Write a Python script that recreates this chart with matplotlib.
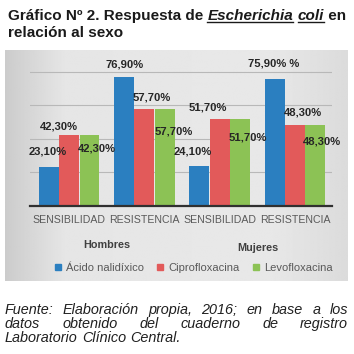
import numpy as np
import matplotlib.pyplot as plt
from matplotlib.lines import Line2D

# Data
categories = ["SENSIBILIDAD", "RESISTENCIA", "SENSIBILIDAD", "RESISTENCIA"]
groups = ["Hombres", "Mujeres"]
series_names = ["Ácido nalidíxico", "Ciprofloxacina", "Levofloxacina"]
acido = [23.1, 76.9, 24.1, 75.9]
cipro = [42.3, 57.7, 51.7, 48.3]
levo = [42.3, 57.7, 51.7, 48.3]

colors = ["#2b7fc0", "#e25a5a", "#8cc255"]
W, H = 354, 354
FONT = "Liberation Sans"

fig = plt.figure(figsize=(W / 100, H / 100), dpi=100)
fig.patch.set_facecolor("white")


def fx(px):
    return px / W


def fy(py):
    return 1 - py / H


# gray panel behind the chart
bg = fig.add_axes([fx(5), fy(281), fx(343), (281 - 50) / H], zorder=0)
grad = np.concatenate([np.linspace(0.80, 0.90, 60), np.linspace(0.90, 0.91, 200),
                       np.linspace(0.91, 0.86, 80)])
bg.imshow(np.tile(grad, (10, 1)), cmap="gray", vmin=0, vmax=1, aspect="auto",
          extent=[0, 1, 0, 1])
bg.axis("off")

ax = fig.add_axes([fx(30), fy(206), fx(302), (206 - 60) / H], zorder=1)
ax.patch.set_alpha(0)
x = np.arange(len(categories))
w = 0.27
data = [acido, cipro, levo]
for k, (vals, c) in enumerate(zip(data, colors)):
    ax.bar(x + (k - 1) * w, vals, width=w - 0.005, color=c, zorder=2)

ax.set_xlim(-0.52, 3.49)
ax.set_ylim(0, 87)
ax.set_yticks([20, 40, 60, 80])
ax.yaxis.grid(True, color="#b8b8b8", lw=0.8, zorder=0)
ax.set_yticklabels([])
ax.tick_params(length=0)
ax.set_xticks([])
for s in ["top", "right", "left"]:
    ax.spines[s].set_visible(False)
ax.spines["bottom"].set_color("#303030")
ax.spines["bottom"].set_linewidth(1.6)
ax.spines["bottom"].set_zorder(3)

# value labels (pixel offsets from bar top)
offsets = [
    [(-1, 16), (0, 12), (-7, 14), (-1, 15)],
    [(-10, 9), (7, 12), (-12, 12), (8, 12)],
    [(7, -13), (9, -22), (8, -18), (7, -17)],
]
for k, vals in enumerate(data):
    for i, v in enumerate(vals):
        txt = f"{v:.2f}".replace(".", ",") + "%"
        if k == 0 and i == 3:
            txt += " %"
        ax.annotate(txt, xy=(x[i] + (k - 1) * w, v), xytext=offsets[k][i],
                    textcoords="offset pixels", ha="center", va="center",
                    fontsize=8.1, fontweight="bold", family=FONT,
                    color="#262626", zorder=4)

for i, cat in enumerate(categories):
    ax.annotate(cat, xy=(x[i], 0), xycoords=("data", "axes fraction"),
                xytext=(0, -14), textcoords="offset pixels", ha="center",
                va="center", fontsize=7.6, family=FONT, color="#595959")

for g, (name, dy) in enumerate(zip(groups, [-39, -42])):
    ax.annotate(name, xy=(2 * g + 0.5, 0), xycoords=("data", "axes fraction"),
                xytext=(0, dy), textcoords="offset pixels", ha="center",
                va="center", fontsize=7.8, fontweight="bold", family=FONT,
                color="#404040")

handles = [Line2D([], [], marker="s", ls="", color=c, markersize=4.5)
           for c in colors]
fig.legend(handles, series_names, loc="center", bbox_to_anchor=(fx(193), fy(268)),
           ncol=3, frameon=False, handlelength=0.8, handletextpad=0.3,
           columnspacing=1.1, prop={"family": FONT, "size": 8.0},
           labelcolor="#595959")

renderer = fig.canvas.get_renderer()


def place_runs(runs, x0, y, size):
    # runs: (text, style, underline)
    xp = x0
    for text, style, under in runs:
        t = fig.text(fx(xp), fy(y), text, fontsize=size, fontweight="bold",
                     fontstyle=style, family=FONT, va="baseline", color="#1a1a1a")
        bb = t.get_window_extent(renderer)
        if under:
            fig.add_artist(Line2D([fx(xp), fx(xp) + bb.width / W],
                                  [fy(y + 2), fy(y + 2)], color="#1a1a1a", lw=1.0))
        xp += bb.width


place_runs([("Gráfico Nº 2. Respuesta de ", "normal", False),
            ("Escherichia", "italic", True), (" ", "normal", False),
            ("coli", "italic", True), (" en", "normal", False)], 8, 20, 11.0)
place_runs([("relación al sexo", "normal", False)], 8, 37, 11.0)


def justify(line, y, x0, x1, size, stretch=True):
    words = line.split()
    texts = [fig.text(0, 0, wd, fontsize=size, fontstyle="italic", family=FONT,
                      va="baseline", color="#202020") for wd in words]
    widths = [t.get_window_extent(renderer).width for t in texts]
    if stretch and len(words) > 1:
        gap = (x1 - x0 - sum(widths)) / (len(words) - 1)
    else:
        sp = fig.text(0, 0, "a a", fontsize=size, fontstyle="italic", family=FONT)
        sp2 = fig.text(0, 0, "aa", fontsize=size, fontstyle="italic", family=FONT)
        gap = sp.get_window_extent(renderer).width - sp2.get_window_extent(renderer).width
        sp.remove()
        sp2.remove()
    xp = x0
    for t, wdt in zip(texts, widths):
        t.set_position((fx(xp), fy(y)))
        xp += wdt + gap


justify("Fuente: Elaboración propia, 2016; en base a los", 314, 5, 348, 10.4)
justify("datos obtenido del cuaderno de registro", 328, 5, 348, 10.4)
justify("Laboratorio Clínico Central.", 342, 5, 348, 10.4, stretch=False)

fig.savefig("out.png", dpi=100)
